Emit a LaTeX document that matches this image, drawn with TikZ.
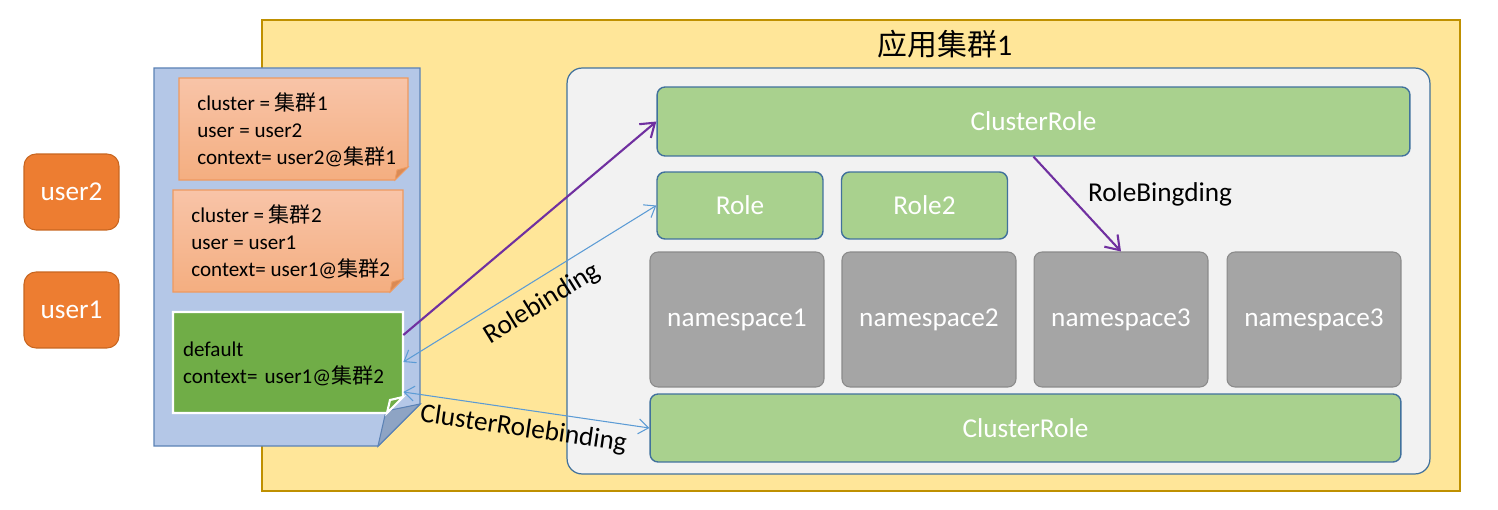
\documentclass[tikz,border=0pt]{standalone}
\usepackage{fontspec}
\setmainfont{Carlito}
\newfontfamily\cjk{Noto Sans CJK SC}
\usetikzlibrary{arrows.meta,positioning,calc}

\definecolor{yfill}{HTML}{FFE699}
\definecolor{yedge}{HTML}{BF9000}
\definecolor{gfill}{HTML}{F2F2F2}
\definecolor{boxedge}{HTML}{41719C}
\definecolor{boxgreen}{HTML}{A9D18E}
\definecolor{nsgray}{HTML}{A5A5A5}
\definecolor{nsedge}{HTML}{8A8A8A}
\definecolor{docblue}{HTML}{B4C7E7}
\definecolor{docedge}{HTML}{5B82B5}
\definecolor{docfold}{HTML}{8EA4C4}
\definecolor{notetop}{HTML}{F8C4A8}
\definecolor{notebot}{HTML}{F4AE80}
\definecolor{noteedge}{HTML}{EE9A60}
\definecolor{notefold}{HTML}{D98A55}
\definecolor{dgreen}{HTML}{70AD47}
\definecolor{usrorange}{HTML}{ED7D31}
\definecolor{usredge}{HTML}{C8651F}
\definecolor{purp}{HTML}{7030A0}
\definecolor{lblue}{HTML}{5B9BD5}

\begin{document}
\begin{tikzpicture}[x=0.02cm, y=-0.02cm,
   lbl/.style={font=\fontsize{15.5}{18}\selectfont},
   grnbox/.style={draw=boxedge, fill=boxgreen, rounded corners=0.16cm, line width=0.8pt,
                  text=white, inner sep=0pt, font=\fontsize{15.5}{18}\selectfont},
   nsbox/.style={draw=nsedge, fill=nsgray, rounded corners=0.16cm, line width=0.6pt,
                 text=white, inner sep=0pt, minimum width=3.48cm, minimum height=2.7cm,
                 font=\fontsize{15.5}{18}\selectfont},
   usrbox/.style={draw=usredge, fill=usrorange, rounded corners=0.24cm, line width=0.6pt,
                  text=white, inner sep=0pt, minimum width=1.9cm, minimum height=1.52cm,
                  font=\fontsize{15.5}{18}\selectfont},
   note/.style={align=left, anchor=west, inner xsep=0.36cm, font=\fontsize{12}{15.3}\selectfont},
   purparrow/.style={draw=purp, line width=1.2pt, -{Straight Barb[length=2.6mm,width=3.6mm]}},
   bluearrow/.style={draw=lblue, line width=0.6pt,
                     {Straight Barb[length=2mm,width=3mm]}-{Straight Barb[length=2mm,width=3mm]}}]
  \useasboundingbox (0,0) rectangle (1498,510);

  % cluster and its inner area
  \node[draw=yedge, fill=yfill, line width=1.2pt, minimum width=23.96cm, minimum height=9.42cm] (clu) at (861,255.5) {};
  \node[font=\fontsize{17}{20}\selectfont] (ttl) at (945,44) {{\cjk 应用集群}1};
  \node[draw=boxedge, fill=gfill, rounded corners=0.3cm, line width=0.7pt,
        minimum width=17.26cm, minimum height=8.12cm] (area) at (998.5,271) {};

  % users
  \node[usrbox] (u2) at (71.5,192) {user2};
  \node[usrbox] (u1) at (71.5,310) {user1};

  % kubeconfig page
  \filldraw[fill=docblue, draw=docedge, line width=0.8pt]
     (154,68) -- (420,68) -- (420,404) -- (378,446) -- (154,446) -- cycle;
  \filldraw[fill=docfold, draw=docedge, line width=0.6pt] (378,446) -- (420,404) -- (386,411) -- cycle;

  \path[top color=notetop, bottom color=notebot, draw=noteedge, line width=0.6pt]
     (179,78) -- (408,78) -- (408,167) -- (395,180) -- (179,180) -- cycle;
  \filldraw[fill=notefold, draw=noteedge, line width=0.5pt] (408,167) -- (395,180) -- (397,170) -- cycle;
  \path[top color=notetop, bottom color=notebot, draw=noteedge, line width=0.6pt]
     (173,190) -- (403,190) -- (403,279) -- (390,292) -- (173,292) -- cycle;
  \filldraw[fill=notefold, draw=noteedge, line width=0.5pt] (403,279) -- (390,292) -- (392,282) -- cycle;
  \filldraw[fill=dgreen, draw=white, line width=1.2pt]
     (173,312) -- (403,312) -- (403,397) -- (387,413) -- (173,413) -- cycle;
  \filldraw[fill=dgreen, draw=white, line width=1.2pt] (403,397) -- (387,413) -- (390,400) -- cycle;

  \node[note] (ctx1) at (179,130) {cluster = {\cjk 集群}1\\user = user2\\context= user2@{\cjk 集群}1};
  \node[note] (ctx2) at (173,242) {cluster = {\cjk 集群}2\\user = user1\\context= user1@{\cjk 集群}2};
  \node[note, anchor=center, inner xsep=0.2cm, text width=4.2cm, minimum height=2.02cm] (dflt) at (288,364)
       {default\\context= user1@{\cjk 集群}2};

  % roles and namespaces
  \node[grnbox, minimum width=15.06cm, minimum height=1.38cm] (crtop) at (1033.5,121.5) {ClusterRole};
  \node[grnbox, minimum width=3.32cm, minimum height=1.34cm] (role) at (740,205.5) {Role};
  \node[grnbox, minimum width=3.32cm, minimum height=1.34cm] (role2) at (924.5,205.5) {Role2};
  \foreach \x/\t [count=\i] in {737/namespace1, 929/namespace2, 1121/namespace3, 1314/namespace3}
    \node[nsbox] (ns\i) at (\x,319.5) {\t};
  \node[grnbox, minimum width=15.02cm, minimum height=1.36cm] (crbot) at (1025.5,428) {ClusterRole};

  % bindings
  \draw[purparrow] ([yshift=0.58cm]dflt.east) -- (crtop.west);
  \draw[bluearrow] ([yshift=0.04cm]dflt.east) -- node[lbl, sloped, below=3pt] (lrb) {Rolebinding} (role.west);
  \draw[bluearrow] ([yshift=-0.56cm]dflt.east) -- node[lbl, sloped, below=1pt] (lcrb) {ClusterRolebinding} (crbot.west);
  \draw[purparrow] (crtop.south) -- (ns3.north);
  \node[lbl] (lrbg) at (1160,194) {RoleBingding};
\end{tikzpicture}
\end{document}
